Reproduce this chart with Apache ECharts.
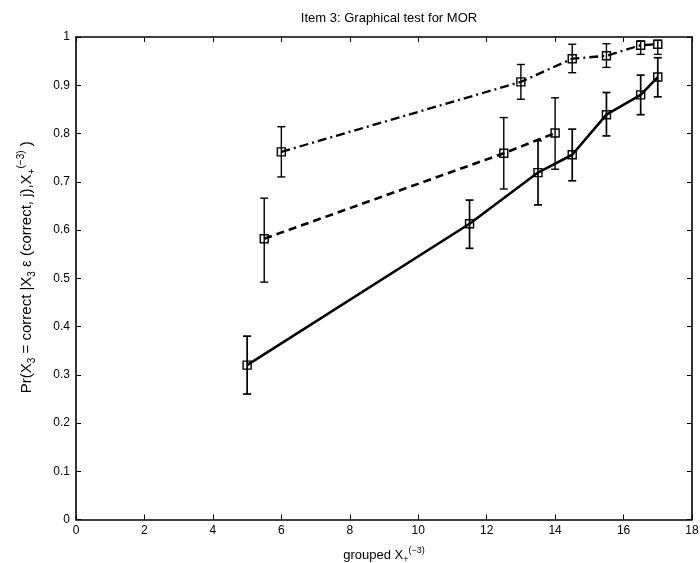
<!DOCTYPE html>
<html>
<head>
<meta charset="utf-8">
<script src="https://cdn.jsdelivr.net/npm/echarts@6/dist/echarts.min.js"></script>
<style>
html,body{margin:0;padding:0;background:#fff;}
#chart{width:700px;height:563px;}
</style>
</head>
<body>
<div id="chart"></div>
<script>
// ---- data ----
var titleText = 'Item 3: Graphical test for MOR';
var xAxisName = 'grouped X{sub|+}{sup|(\u22123)}';
var yAxisName = 'Pr(X{sub|3} = correct |X{sub|3} \u03B5 (correct, j),X{sub|+}{sup|(\u22123)} )';

var xSolid  = [5, 11.5, 13.5, 14.5, 15.5, 16.5, 17];
var ySolid  = [0.320, 0.613, 0.719, 0.756, 0.839, 0.880, 0.917];
var loSolid = [0.260, 0.562, 0.652, 0.702, 0.795, 0.839, 0.876];
var hiSolid = [0.380, 0.662, 0.785, 0.809, 0.885, 0.921, 0.957];

var xDashed  = [5.5, 12.5, 14];
var yDashed  = [0.582, 0.759, 0.801];
var loDashed = [0.492, 0.685, 0.726];
var hiDashed = [0.666, 0.833, 0.874];

var xDashDot  = [6, 13, 14.5, 15.5, 16.5, 17];
var yDashDot  = [0.762, 0.907, 0.955, 0.961, 0.983, 0.985];
var loDashDot = [0.710, 0.871, 0.926, 0.937, 0.964, 0.964];
var hiDashDot = [0.814, 0.943, 0.985, 0.986, 0.992, 0.993];

var xTicks = [0, 2, 4, 6, 8, 10, 12, 14, 16, 18];
var yTicks = [0, 0.1, 0.2, 0.3, 0.4, 0.5, 0.6, 0.7, 0.8, 0.9, 1];

// ---- build ----
function pts(xs, ys){ return xs.map(function(x,i){ return [x, ys[i]]; }); }
function errs(xs, lo, hi){ return xs.map(function(x,i){ return [x, lo[i], hi[i]]; }); }

var FONT = '"Liberation Sans", Arial, "DejaVu Sans", sans-serif';

function richSubSup(sz){
  return {
    sub: {fontSize: sz, fontFamily: FONT, color: '#000', verticalAlign: 'bottom', lineHeight: sz},
    sup: {fontSize: sz, fontFamily: FONT, color: '#000', verticalAlign: 'top', lineHeight: sz}
  };
}

function errorSeries(data, w){
  return {
    type: 'custom',
    xAxisIndex: 0, yAxisIndex: 0,
    data: data,
    z: 3,
    silent: true,
    renderItem: function(params, api){
      var x = api.value(0);
      var lo = api.coord([x, api.value(1)]);
      var hi = api.coord([x, api.value(2)]);
      var cap = 4;
      var st = {stroke: '#000', lineWidth: w, fill: null};
      return {
        type: 'group',
        children: [
          {type:'line', shape:{x1:lo[0], y1:lo[1], x2:hi[0], y2:hi[1]}, style: st},
          {type:'line', shape:{x1:lo[0]-cap, y1:lo[1], x2:lo[0]+cap, y2:lo[1]}, style: st},
          {type:'line', shape:{x1:hi[0]-cap, y1:hi[1], x2:hi[0]+cap, y2:hi[1]}, style: st}
        ]
      };
    }
  };
}

function lineSeries(data, type, w){
  return {
    type: 'line',
    xAxisIndex: 0, yAxisIndex: 0,
    data: data,
    z: 4,
    symbol: 'rect',
    symbolSize: 8,
    showAllSymbol: true,
    animation: false,
    lineStyle: {color: '#000', width: w, type: type},
    itemStyle: {color: 'rgba(255,255,255,0)', borderColor: '#000', borderWidth: 1.4}
  };
}

var axisLabelStyle = {color: '#000', fontSize: 12, fontFamily: FONT};

var option = {
  animation: false,
  backgroundColor: '#fff',
  title: {
    text: titleText,
    left: 384, top: 7, textAlign: 'center',
    textStyle: {color: '#000', fontSize: 13, fontWeight: 'normal', fontFamily: FONT}
  },
  grid: {left: 76, right: 8, top: 37, bottom: 43.5, show: false, containLabel: false, outerBoundsMode: 'none'},
  xAxis: [{
    type: 'value', min: 0, max: 18, interval: 2, position: 'bottom',
    name: xAxisName, nameLocation: 'middle', nameGap: 27,
    nameTextStyle: {color: '#000', fontSize: 13, fontFamily: FONT, lineHeight: 18, rich: richSubSup(9)},
    axisLine: {show: true, onZero: false, lineStyle: {color: '#000', width: 1.6}},
    axisTick: {show: true, inside: true, length: 5, lineStyle: {color: '#000'}},
    axisLabel: Object.assign({margin: 5, formatter: function(v){ return xTicks.indexOf(v) >= 0 ? String(v) : ''; }}, axisLabelStyle),
    splitLine: {show: false}
  },{
    type: 'value', min: 0, max: 18, interval: 2, position: 'top',
    axisLine: {show: true, onZero: false, lineStyle: {color: '#000', width: 1.6}},
    axisTick: {show: true, inside: true, length: 5, lineStyle: {color: '#000'}},
    axisLabel: {show: false}, splitLine: {show: false}
  }],
  yAxis: [{
    type: 'value', min: 0, max: 1, interval: 0.1, position: 'left',
    name: yAxisName, nameLocation: 'middle', nameGap: 39, nameRotate: 90,
    nameTextStyle: {color: '#000', fontSize: 15, fontFamily: FONT, lineHeight: 21, rich: richSubSup(10), padding: [0, 0, 0, 22]},
    axisLine: {show: true, onZero: false, lineStyle: {color: '#000', width: 1.6}},
    axisTick: {show: true, inside: true, length: 5, lineStyle: {color: '#000'}},
    axisLabel: Object.assign({margin: 6, formatter: function(v){
      var r = Math.round(v*10)/10;
      for (var i=0;i<yTicks.length;i++){ if (Math.abs(yTicks[i]-r)<1e-9) return String(yTicks[i]); }
      return '';
    }}, axisLabelStyle),
    splitLine: {show: false}
  },{
    type: 'value', min: 0, max: 1, interval: 0.1, position: 'right',
    axisLine: {show: true, onZero: false, lineStyle: {color: '#000', width: 1.6}},
    axisTick: {show: true, inside: true, length: 5, lineStyle: {color: '#000'}},
    axisLabel: {show: false}, splitLine: {show: false}
  }],
  series: [
    errorSeries(errs(xSolid, loSolid, hiSolid), 1.7),
    errorSeries(errs(xDashed, loDashed, hiDashed), 1.4),
    errorSeries(errs(xDashDot, loDashDot, hiDashDot), 1.4),
    lineSeries(pts(xSolid, ySolid), 'solid', 2.6),
    lineSeries(pts(xDashed, yDashed), [8, 5], 2.6),
    lineSeries(pts(xDashDot, yDashDot), [9, 4, 2, 4], 2.3)
  ]
};

var chart = echarts.init(document.getElementById('chart'), null, {renderer: 'canvas'});
chart.setOption(option);
</script>
</body>
</html>
